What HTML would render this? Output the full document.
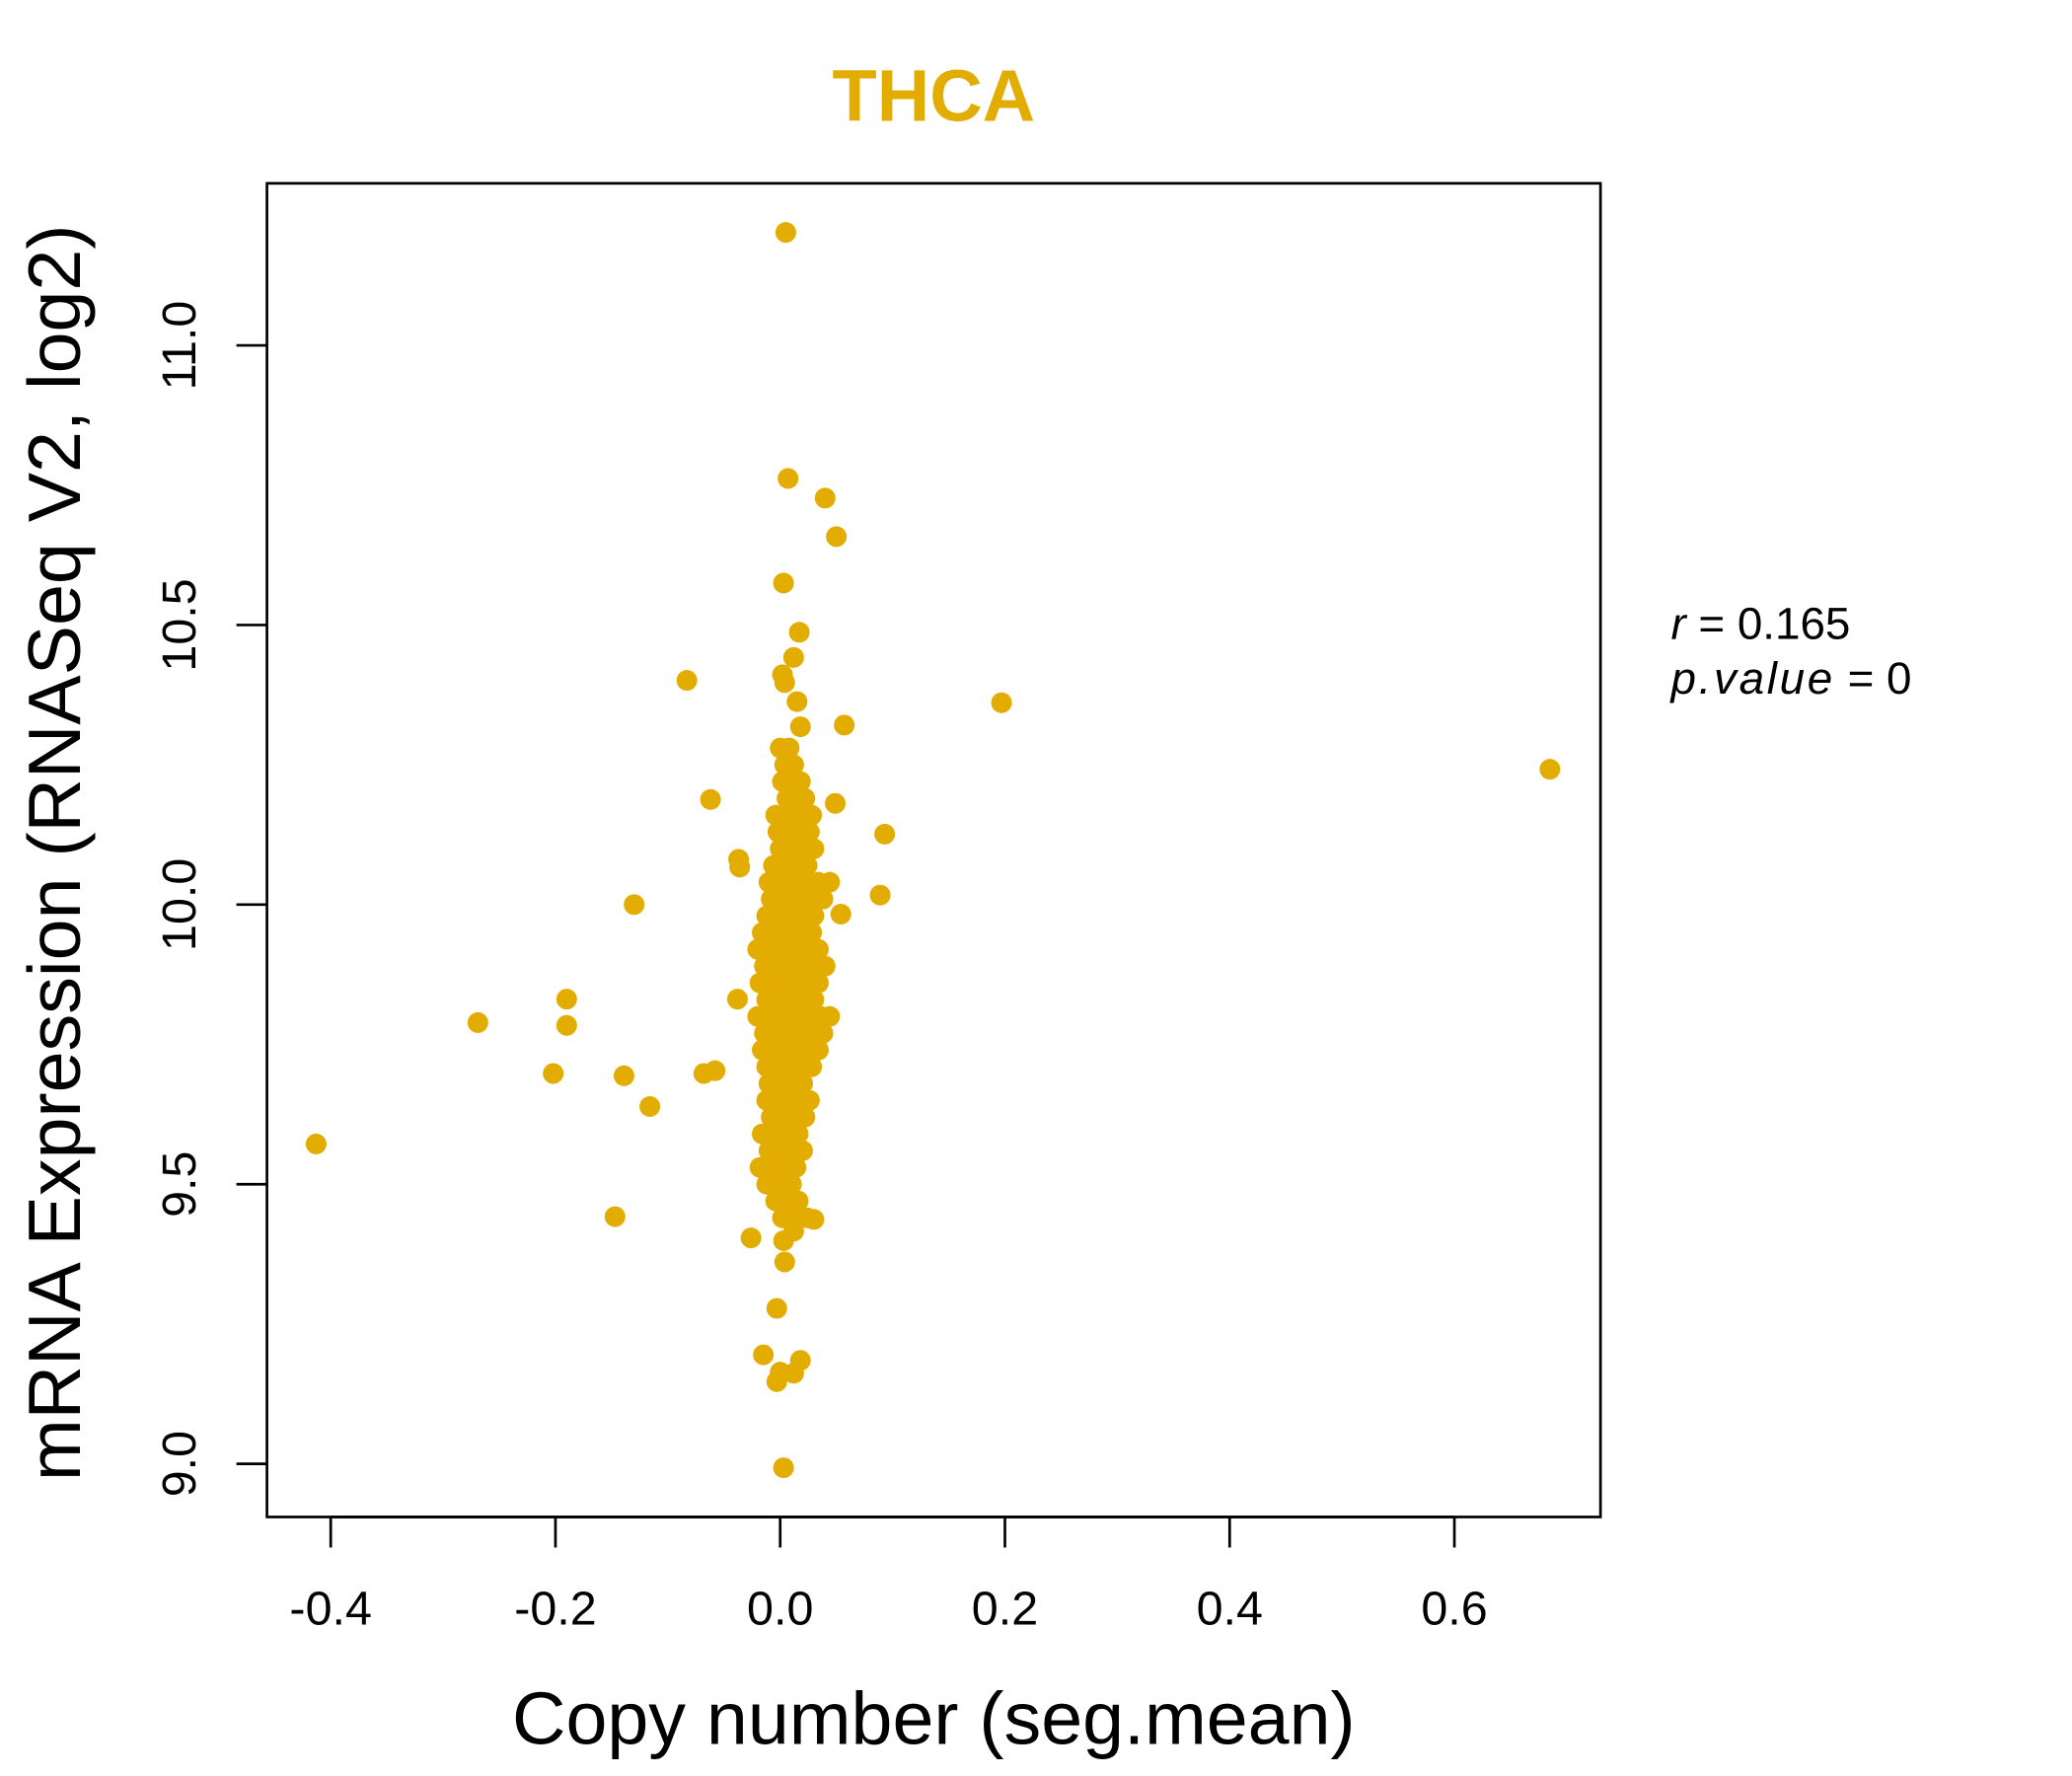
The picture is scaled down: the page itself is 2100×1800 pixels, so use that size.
<!DOCTYPE html>
<html><head><meta charset="utf-8"><style>
html,body{margin:0;padding:0;background:#fff}
svg{display:block}
text{font-family:"Liberation Sans",Arial,sans-serif}
</style></head><body>
<svg id="chart" width="2100" height="1800" viewBox="0 0 1560 1337" preserveAspectRatio="none" xmlns="http://www.w3.org/2000/svg">
<rect x="0" y="0" width="1560" height="1337" fill="#fff"/>
<text x="703" y="91" text-anchor="middle" font-size="55" font-weight="bold" fill="#E3AC00">THCA</text>
<rect x="201" y="138" width="1004" height="1004" fill="none" stroke="#000" stroke-width="2"/>
<g id="points"></g>
<g id="xaxis"></g>
<g id="yaxis"></g>
<text x="703" y="1313" text-anchor="middle" font-size="56">Copy number (seg.mean)</text>
<text transform="translate(60,642) rotate(-90)" text-anchor="middle" font-size="56">mRNA Expression (RNASeq V2, log2)</text>
<text x="1258" y="481" font-size="34"><tspan font-style="italic">r</tspan> = 0.165</text>
<text x="1258" y="522" font-size="34"><tspan font-style="italic" letter-spacing="2">p.value</tspan> = 0</text>
</svg>
<script>
const xTicks = [-0.4, -0.2, 0.0, 0.2, 0.4, 0.6];
const xTickLabels = ["-0.4", "-0.2", "0.0", "0.2", "0.4", "0.6"];
const yTicks = [9.0, 9.5, 10.0, 10.5, 11.0];
const yTickLabels = ["9.0", "9.5", "10.0", "10.5", "11.0"];
const outlierCopyNumber = [-0.413,-0.269,-0.202,-0.19,-0.19,-0.139,-0.147,-0.130,-0.116,-0.083,-0.062,-0.068,-0.058,-0.037,-0.036,-0.038,-0.026,0.005,0.007,0.040,0.050,0.003,0.017,0.012,0.002,0.004,0.015,0.018,0.057,0.197,0.685,0.049,0.093,0.089,0.054,-0.003,-0.015,0.018,-0.003,0.0,0.012,0.003,0.004,0.003,0.03,0.012];
const outlierExpression = [9.572,9.789,9.698,9.831,9.784,9.694,9.442,10.0,9.639,10.401,10.188,9.698,9.703,10.081,10.067,9.831,9.404,11.202,10.762,10.727,10.658,10.575,10.487,10.442,10.411,10.397,10.363,10.318,10.321,10.361,10.242,10.181,10.126,10.017,9.983,9.278,9.195,9.185,9.147,9.164,9.162,8.993,9.361,9.399,9.437,9.416];
const clusterCopyNumber = [
0.000,0.008,
0.004,0.012,
0.002,0.010,0.018,
0.006,0.014,0.022,
-0.004,0.004,0.012,0.020,0.028,
-0.002,0.008,0.016,0.026,
0.000,0.010,0.020,0.030,
-0.006,0.004,0.014,0.024,
-0.010,0.002,0.012,0.022,0.034,0.044,
-0.008,0.004,0.014,0.026,0.038,
-0.012,0.000,0.010,0.020,0.030,
-0.016,-0.004,0.006,0.016,0.028,
-0.020,-0.008,0.002,0.012,0.022,0.034,
-0.014,-0.002,0.008,0.018,0.030,0.040,
-0.018,-0.006,0.004,0.014,0.024,0.034,
-0.012,0.000,0.010,0.020,0.030,
-0.020,-0.008,0.002,0.012,0.022,0.036,0.044,
-0.014,-0.002,0.008,0.018,0.028,0.038,
-0.016,-0.006,0.004,0.014,0.024,0.034,
-0.012,-0.002,0.008,0.018,0.028,
-0.010,0.000,0.010,0.020,
-0.012,-0.002,0.008,0.018,0.026,
-0.008,0.002,0.012,0.022,
-0.016,-0.004,0.006,0.016,
-0.010,0.000,0.010,0.020,
-0.018,-0.006,0.004,0.014,
-0.012,0.000,0.010,
-0.004,0.006,0.016,
0.002,0.012,0.024];
const clusterExpression = [
10.28,10.28,
10.25,10.25,
10.22,10.22,10.22,
10.19,10.19,10.19,
10.16,10.16,10.16,10.16,10.16,
10.13,10.13,10.13,10.13,
10.10,10.10,10.10,10.10,
10.07,10.07,10.07,10.07,
10.04,10.04,10.04,10.04,10.04,10.04,
10.01,10.01,10.01,10.01,10.01,
9.98,9.98,9.98,9.98,9.98,
9.95,9.95,9.95,9.95,9.95,
9.92,9.92,9.92,9.92,9.92,9.92,
9.89,9.89,9.89,9.89,9.89,9.89,
9.86,9.86,9.86,9.86,9.86,9.86,
9.83,9.83,9.83,9.83,9.83,
9.80,9.80,9.80,9.80,9.80,9.80,9.80,
9.77,9.77,9.77,9.77,9.77,9.77,
9.74,9.74,9.74,9.74,9.74,9.74,
9.71,9.71,9.71,9.71,9.71,
9.68,9.68,9.68,9.68,
9.65,9.65,9.65,9.65,9.65,
9.62,9.62,9.62,9.62,
9.59,9.59,9.59,9.59,
9.56,9.56,9.56,9.56,
9.53,9.53,9.53,9.53,
9.50,9.50,9.50,
9.47,9.47,9.47,
9.44,9.44,9.44];
const NS="http://www.w3.org/2000/svg";
function xScale(v){return 587.4+(v/0.2)*169.2;}
function yScale(v){return 260+(11-v)/0.5*210.5;}
const pg=document.getElementById('points');
function drawSet(xs,ys){
  const n=Math.min(xs.length,ys.length);
  for(let i=0;i<n;i++){
    const c=document.createElementNS(NS,'circle');
    c.setAttribute('cx',xScale(xs[i]));
    c.setAttribute('cy',yScale(ys[i]));
    c.setAttribute('r',7.8);
    c.setAttribute('fill','#E3AC00');
    
    
    pg.appendChild(c);
  }
}
drawSet(clusterCopyNumber,clusterExpression);
drawSet(outlierCopyNumber,outlierExpression);
const xg=document.getElementById('xaxis');
xTicks.forEach((t,i)=>{
  const x=xScale(t);
  const l=document.createElementNS(NS,'line');
  l.setAttribute('x1',x);l.setAttribute('x2',x);l.setAttribute('y1',1142);l.setAttribute('y2',1165);
  l.setAttribute('stroke','#000');l.setAttribute('stroke-width','2');
  
  
  xg.appendChild(l);
  const tx=document.createElementNS(NS,'text');
  tx.setAttribute('x',x);tx.setAttribute('y',1223);tx.setAttribute('text-anchor','middle');tx.setAttribute('font-size','36');
  tx.textContent=xTickLabels[i];
  
  
  xg.appendChild(tx);
});
const bl=document.createElementNS(NS,'line');
bl.setAttribute('x1',xScale(xTicks[0]));bl.setAttribute('x2',xScale(xTicks[xTicks.length-1]));bl.setAttribute('y1',1142);bl.setAttribute('y2',1142);
bl.setAttribute('stroke','#000');bl.setAttribute('stroke-width','2');
xg.appendChild(bl);
const yg=document.getElementById('yaxis');
yTicks.forEach((t,i)=>{
  const y=yScale(t);
  const l=document.createElementNS(NS,'line');
  l.setAttribute('x1',178);l.setAttribute('x2',201);l.setAttribute('y1',y);l.setAttribute('y2',y);
  l.setAttribute('stroke','#000');l.setAttribute('stroke-width','2');
  
  
  yg.appendChild(l);
  const tx=document.createElementNS(NS,'text');
  tx.setAttribute('transform','translate(147,'+y+') rotate(-90)');tx.setAttribute('text-anchor','middle');tx.setAttribute('font-size','36');
  tx.textContent=yTickLabels[i];
  
  
  yg.appendChild(tx);
});
</script>
</body></html>
